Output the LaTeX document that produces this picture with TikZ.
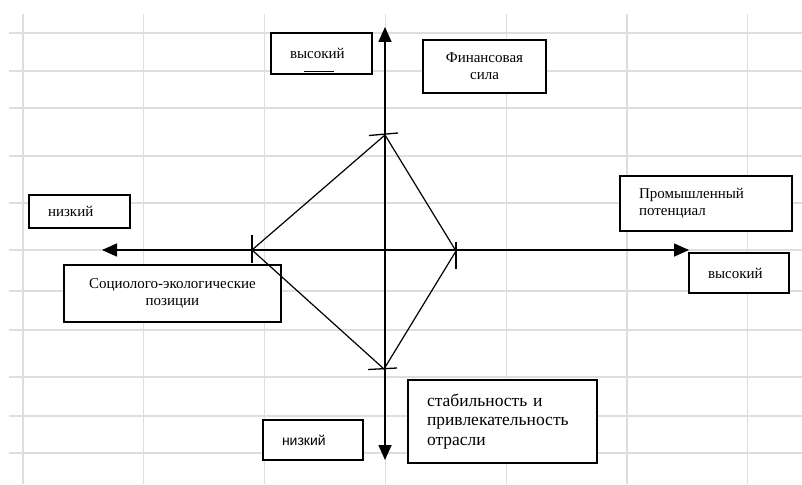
\documentclass[tikz,border=0pt]{standalone}
\usepackage{fontspec}
\setmainfont{Liberation Serif}
\newfontfamily\sansfnt{Liberation Sans}
\usetikzlibrary{arrows.meta}
\definecolor{gridgray}{RGB}{222,222,222}

\begin{document}
\begin{tikzpicture}[x=1pt,y=-1pt]

\tikzstyle{gridline} = [draw=gridgray, line width=1.3]
\tikzstyle{box} = [draw=black, line width=1.6, fill=white, inner ysep=0, inner xsep=19, outer sep=0,
font=\fontsize{15}{17}\selectfont]
\tikzstyle{lbox} = [box, align=left]
\tikzstyle{cbox} = [box, align=center]
\tikzstyle{axis} = [line width=1.6, {Triangle[length=15pt,width=13pt]}-{Triangle[length=15pt,width=13pt]}]
\tikzstyle{edge} = [line width=1.2, line join=miter]
\tikzstyle{tick} = [line width=1.3]

\fill[white] (0,0) rectangle (802,484);
\useasboundingbox (0,0) rectangle (802,484);

% spreadsheet grid
\foreach \gx in {23,143.8,264.6,385.4,506.2,627,747.8}
  \draw[gridline] (\gx,14) -- (\gx,484);
\foreach \gy in {33,71,108,156,203,250,291,330,377,416,453}
  \draw[gridline] (9,\gy) -- (802,\gy);

% labels
\node [lbox, text width=63, minimum height=41] (hiTop) at (321.5,53.5) {высокий};
\draw [line width=1.2] ([xshift=-17.5,yshift=2.5]hiTop.south) -- ([xshift=12.5,yshift=2.5]hiTop.south);

\node [cbox, minimum width=123, minimum height=53] (fin) at (484.5,66.5) {Финансовая\\сила};
\node [lbox, text width=134, minimum height=55] (prom) at (706,203.5) {Промышленный\\потенциал};
\node [lbox, text width=62, minimum height=40] (hiRight) at (739,273) {высокий};
\node [lbox, text width=63, minimum height=33] (loLeft) at (79.5,211.5) {низкий};
\node [cbox, minimum width=217, minimum height=57] (soc) at (172.5,293.5) {Социолого-экологические\\позиции};
\node [lbox, text width=62, minimum height=40, font=\sansfnt\fontsize{14}{16}\selectfont] (loBottom) at (313,440) {низкий};
\node [lbox, text width=151, minimum height=83, font=\fontsize{17.5}{19.5}\selectfont] (stab) at (502.5,421.5)
  {стабильность и\\привлекательность\\отрасли};

% axes
\coordinate (vTop) at (385,27);
\coordinate (vBot) at (385,460);
\coordinate (hL) at (102,250);
\coordinate (hR) at (689,250);
\draw [axis] (vBot) -- (vTop);
\draw [axis] (hL) -- (hR);

% diamond
\coordinate (dT) at (385,135);
\coordinate (dL) at (252,250);
\coordinate (dB) at (384,369);
\coordinate (dR) at (456,251);
\draw [edge] (dT) -- (dR) -- (dB) -- (dL) -- cycle;

\draw [tick] (dT) ++(-16,0.5) -- ++(29,-2.5);
\draw [tick] (dL) ++(0,-15) -- ++(0,28);
\draw [tick] (dB) ++(-16,0.5) -- ++(29,-1.5);
\draw [tick] (dR) ++(0,-9) -- ++(0,27);

\end{tikzpicture}
\end{document}
